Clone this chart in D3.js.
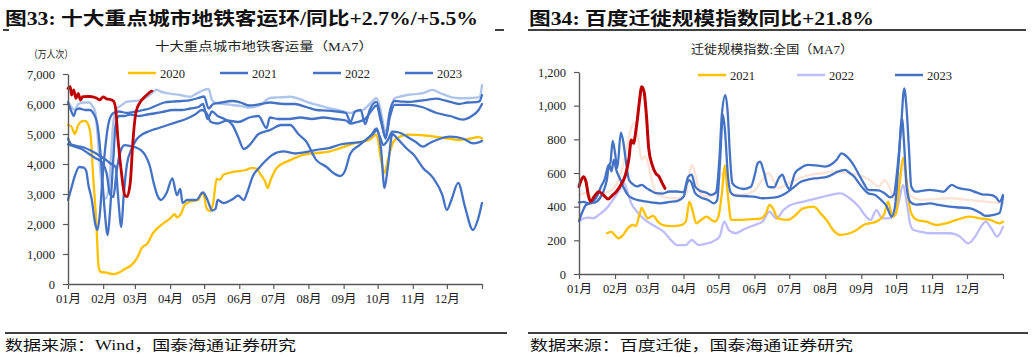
<!DOCTYPE html>
<html><head><meta charset="utf-8">
<script src="https://cdn.jsdelivr.net/npm/d3@7"></script>
<style>body{margin:0;background:#fff;} svg{display:block;}</style>
</head><body>
<svg id="c" width="1032" height="357"></svg>
<script>
// ---------- labels & ticks ----------
const monthLabels = ["01月","02月","03月","04月","05月","06月","07月","08月","09月","10月","11月","12月"];
const monthStartDays = [0,31,59,90,120,151,181,212,243,273,304,334,365];
const metroTicks = [0,1000,2000,3000,4000,5000,6000,7000];
const migTicks = [0,200,400,600,800,1000,1200];
const metroLegend = ["2020","2021","2022","2023"];
const migLegend = ["2021","2022","2023"];

// ---------- left chart: metro ridership (day of year, 10k trips) ----------
const metroLight = [[0,6080],[3,5900],[6,5800],[9,6000],[14,6050],[19,6050],[22,5900],[24,5750],[26,5000],[28,4000],[30,3200],[33,2850],[36,3200],[38,4300],[40,5400],[43,5850],[47,5950],[52,6080],[58,6100],[64,6130],[68,6200],[72,6300],[78,6470],[83,6400],[87,6360],[93,6330],[99,6300],[104,6260],[108,6240],[112,6320],[116,6400],[120,6470],[124,6500],[127,6130],[131,6020],[138,6000],[146,5960],[153,5930],[160,5880],[169,5950],[178,6200],[186,6220],[196,6240],[205,6150],[212,6050],[219,5980],[228,5880],[237,5810],[243,5750],[249,5700],[255,5760],[260,5800],[266,6000],[272,6190],[275,5900],[277,5520],[280,5000],[282,5440],[285,5900],[288,6190],[293,6250],[299,6300],[306,6330],[313,6360],[321,6470],[329,6350],[337,6240],[343,6200],[348,6190],[355,6200],[363,6230],[365,6630]];
const metro2020 = [[0,5300],[3,5250],[6,5000],[9,5300],[12,5420],[15,5440],[18,5300],[20,4950],[22,3700],[25,2030],[27,570],[29,400],[34,380],[40,330],[46,400],[50,500],[55,600],[61,870],[65,1200],[70,1350],[75,1700],[81,1930],[87,2100],[91,2220],[94,2330],[96,2220],[100,2370],[103,2640],[109,2760],[115,2810],[118,3040],[120,2930],[122,2540],[125,2430],[128,2700],[131,3500],[134,3480],[137,3640],[146,3740],[157,3800],[162,3870],[166,3850],[170,3640],[174,3400],[176,3200],[179,3500],[184,3870],[196,4130],[208,4310],[219,4360],[231,4420],[240,4530],[254,4700],[266,4810],[272,4980],[276,4130],[279,3700],[282,4130],[287,4750],[293,4920],[300,4980],[307,4970],[315,4950],[325,4900],[335,4850],[345,4800],[355,4850],[362,4900],[365,4850]];
const metro2021 = [[0,6050],[3,5750],[5,5600],[7,5800],[10,5850],[15,5800],[19,5800],[23,5650],[26,5300],[29,4200],[32,2600],[35,1630],[37,2400],[40,4200],[42,5300],[45,5600],[50,5600],[55,5650],[62,5600],[70,5650],[78,5700],[85,5750],[92,5800],[100,5800],[108,5850],[115,5900],[119,6000],[123,5500],[127,5750],[132,5600],[138,5500],[145,5300],[150,4900],[155,4500],[160,4630],[168,5000],[178,5130],[188,5300],[196,5300],[203,5000],[210,4750],[219,4130],[228,3900],[234,3700],[240,3600],[244,3750],[249,4350],[257,4630],[264,4850],[269,5000],[272,5130],[275,4900],[278,4630],[282,4800],[286,5080],[292,5050],[299,4910],[306,4750],[313,4580],[319,4700],[325,4800],[337,4910],[348,4850],[357,4690],[362,4720],[365,4770]];
const metro2022 = [[0,4650],[4,4600],[8,4550],[12,4500],[18,4350],[24,4200],[30,4050],[34,3700],[37,3000],[40,2900],[43,3800],[47,4500],[50,4630],[55,4600],[60,4550],[64,4470],[68,4300],[72,3950],[76,3300],[79,2930],[82,2800],[87,3040],[92,3520],[96,2960],[99,3170],[101,2700],[105,2800],[113,2800],[119,3050],[123,2800],[127,2450],[130,2500],[132,2800],[137,2700],[146,2850],[150,2950],[155,2800],[158,3050],[163,3600],[168,3850],[174,4100],[180,4300],[190,4420],[200,4350],[210,4400],[219,4470],[230,4530],[240,4650],[250,4700],[260,4750],[268,5000],[272,5190],[276,4500],[279,3200],[282,3900],[286,5000],[290,4860],[299,4500],[305,4300],[313,3870],[322,3530],[330,2970],[334,2470],[338,2800],[344,3370],[350,2570],[357,1800],[361,2100],[365,2700]];
const metro2023 = [[0,2800],[3,3200],[6,3600],[10,3900],[14,3880],[16,3780],[18,3300],[21,2800],[24,2000],[26,1800],[28,2300],[30,3300],[33,4600],[36,5400],[40,5700],[45,5750],[52,5700],[60,5750],[66,5800],[72,5850],[78,5950],[85,6050],[92,6080],[100,6100],[108,6130],[115,6200],[120,6250],[124,5850],[128,6000],[135,6050],[145,6100],[152,6050],[160,5950],[170,6000],[178,6050],[190,6000],[200,6000],[210,5900],[219,5800],[228,5780],[237,5750],[245,5700],[249,5400],[253,5750],[258,5800],[262,5330],[266,5800],[272,6070],[276,5500],[280,4850],[284,5800],[288,6100],[295,6080],[300,6070],[308,6100],[315,6130],[325,6180],[332,6120],[337,6070],[345,6000],[352,6050],[360,6060],[363,6100],[365,6300]];
const metroExtra = [[0,4850],[3,4650],[8,4600],[14,4550],[20,4450],[27,4300],[33,4150],[38,4000],[42,3900],[44,3000],[47,1900],[49,2900],[52,4000],[56,4500],[60,4800],[66,5000],[72,5100],[80,5200],[88,5300],[96,5400],[104,5500],[112,5650],[118,5800],[122,5700],[126,5400],[132,5350],[140,5450],[150,5400],[160,5550],[168,5600],[175,5200],[178,5550],[185,5500],[195,5500],[205,5550],[215,5500],[225,5550],[235,5500],[245,5450],[249,5350],[255,5400],[262,5500],[268,5800],[272,5950],[276,5400],[280,4900],[284,5600],[288,5970],[300,5970],[312,5900],[325,5700],[337,5600],[348,5480],[356,5600],[362,5800],[365,6000]];
const metro2024 = [[0,6522],[2,6578],[3,6300],[5,6467],[7,6189],[9,6356],[11,6133],[13,6244],[19,6250],[25,6200],[28,6140],[31,6240],[34,6170],[37,6150],[40,6100],[42,5850],[44,4850],[47,3750],[50,2970],[52,2910],[55,3410],[57,4630],[60,5740],[64,6080],[68,6250],[72,6390],[74,6430]];

// ---------- right chart: Baidu migration index ----------
const mig2019 = [[0,470],[5,480],[10,460],[15,450],[20,470],[25,490],[30,510],[34,560],[38,650],[42,780],[45,870],[48,900],[51,800],[54,680],[57,700],[60,640],[64,520],[68,470],[75,455],[85,450],[92,470],[95,600],[97,648],[100,600],[104,480],[110,460],[116,470],[120,540],[123,600],[126,560],[130,480],[140,470],[150,490],[158,560],[163,600],[167,560],[172,510],[180,540],[190,570],[200,590],[210,600],[220,610],[230,600],[240,590],[250,560],[258,520],[263,558],[267,520],[272,440],[276,560],[279,650],[282,520],[286,460],[295,440],[305,445],[320,450],[335,440],[350,430],[365,420]];
const mig2020 = [[0,315],[3,370],[6,410],[10,420],[14,425],[18,450],[21,490],[24,560],[26,650],[28,610],[30,680],[32,620],[35,570],[38,520],[42,470],[46,450],[50,440],[56,432],[62,425],[70,420],[78,428],[85,435],[90,459],[93,540],[95,558],[97,540],[100,480],[105,455],[111,440],[116,420],[119,440],[121,620],[124,945],[126,820],[128,600],[131,480],[135,465],[145,462],[152,458],[158,450],[165,452],[172,460],[178,480],[184,510],[191,548],[197,560],[203,568],[209,572],[214,578],[219,595],[223,608],[229,618],[233,600],[237,578],[241,540],[245,505],[249,479],[255,469],[260,440],[265,400],[269,341],[272,400],[275,650],[278,925],[280,760],[282,520],[285,430],[290,412],[296,415],[302,420],[310,410],[319,400],[328,395],[337,390],[345,365],[350,345],[356,350],[362,362],[365,460]];
const mig2021 = [[24,242],[28,250],[31,230],[34,212],[38,232],[42,271],[46,291],[49,285],[52,351],[54,392],[56,370],[59,331],[64,345],[68,311],[72,291],[80,285],[88,291],[92,311],[95,430],[98,370],[101,301],[105,321],[110,341],[114,321],[117,311],[120,341],[123,479],[125.5,645],[128,479],[131,321],[137,321],[146,325],[157,331],[161,361],[164,410],[167,390],[171,331],[180,321],[185,341],[193,390],[202,400],[208,360],[213,321],[220,252],[225,232],[233,242],[239,261],[245,291],[250,301],[256,311],[263,360],[266,430],[270,341],[273,360],[276,538],[279,690],[282,560],[284,430],[286,361],[291,321],[299,311],[308,291],[316,301],[325,321],[336,341],[345,331],[354,321],[362,301],[365,311]];
const mig2022 = [[0,311],[4,330],[8,335],[12,331],[17,351],[25,400],[32,469],[36,510],[39,540],[42,480],[45,420],[50,370],[57,320],[65,285],[73,250],[80,195],[84,172],[92,172],[97,202],[103,172],[109,180],[115,192],[121,222],[125,311],[129,261],[135,242],[141,262],[147,281],[153,295],[158,311],[164,370],[170,330],[176,380],[182,410],[190,425],[199,440],[208,455],[216,469],[225,479],[233,450],[238,420],[242,390],[246,350],[251,321],[256,380],[261,331],[266,330],[271,341],[275,420],[279,529],[282,430],[285,300],[288,261],[295,250],[302,242],[310,242],[319,242],[328,222],[335,182],[341,222],[346,280],[350,311],[355,270],[360,222],[365,281]];
const mig2023 = [[0,425],[4,428],[8,420],[12,430],[16,470],[19,520],[22,560],[25,640],[27,660],[29,790],[31,720],[33,630],[36,840],[38,790],[40,690],[43,560],[46,535],[50,520],[54,530],[58,510],[62,495],[66,480],[72,478],[78,490],[84,490],[90,485],[94,578],[97,590],[100,520],[104,495],[109,485],[114,470],[118,485],[121,700],[123,950],[126,1063],[128,960],[130,700],[132,540],[136,515],[142,505],[148,518],[151,580],[154,660],[156,667],[159,610],[163,518],[168,515],[172,570],[175,590],[178,540],[181,505],[186,600],[191,630],[197,648],[204,645],[212,638],[218,655],[222,680],[226,717],[229,707],[233,680],[237,640],[241,590],[245,540],[249,500],[254,498],[258,497],[263,480],[268,455],[271,470],[274,620],[277,850],[280,1103],[282,980],[284,750],[286,520],[290,489],[296,495],[302,500],[308,495],[314,489],[318,515],[321,530],[325,515],[330,505],[336,500],[342,485],[348,472],[354,470],[359,455],[362,430],[365,469]];
const mig2024 = [[0,519],[2,559],[4,578],[6,549],[8,469],[10,430],[13,459],[17,489],[21,469],[25,446],[29,469],[32,489],[36,529],[40,588],[43,687],[45,796],[47,776],[48,806],[50,905],[52,1024],[54,1113],[56,1083],[58,945],[60,747],[63,648],[66,598],[69,578],[71,549],[74,509]];

// ---------- drawing ----------
const svg = d3.select("#c");
const SERIF = "'Liberation Serif','Times New Roman','Noto Sans CJK SC',serif";
const CJK = "'Liberation Serif','Noto Sans CJK SC',sans-serif";
const BLUE = "#4472C4", YEL = "#FFC000", RED = "#C00000";

function txt(x, y, s, size, opts = {}) {
  const t = svg.append("text").attr("x", x).attr("y", y).text(s)
    .attr("font-family", opts.family || CJK).attr("font-size", size)
    .attr("fill", opts.fill || "#111");
  if (opts.bold) t.attr("font-weight", "bold");
  if (opts.len) t.attr("textLength", opts.len).attr("lengthAdjust", "spacingAndGlyphs");
  if (opts.anchor) t.attr("text-anchor", opts.anchor);
  return t;
}

// titles
txt(5, 25, "图33:  十大重点城市地铁客运环/同比+2.7%/+5.5%", 18, {bold: true, len: 473});
txt(529, 25, "图34:  百度迁徙规模指数同比+21.8%", 18, {bold: true, len: 345});
svg.append("line").attr("x1", 528).attr("x2", 1026).attr("y1", 30).attr("y2", 30).attr("stroke", "#000").attr("stroke-width", 1.5);
svg.append("line").attr("x1", 3).attr("x2", 9).attr("y1", 30).attr("y2", 30).attr("stroke", "#000").attr("stroke-width", 1.5);
svg.append("line").attr("x1", 495).attr("x2", 504).attr("y1", 30).attr("y2", 30).attr("stroke", "#000").attr("stroke-width", 1.5);

// subtitles
txt(264, 51, "十大重点城市地铁客运量（MA7）", 12, {len: 218, anchor: "middle", fill: "#222"});
txt(29, 58, "（万人次）", 10.5, {len: 44, fill: "#222"});
txt(772, 54, "迁徙规模指数:全国（MA7）", 12, {len: 162, anchor: "middle", fill: "#222"});

// footers
svg.append("line").attr("x1", 5).attr("x2", 507).attr("y1", 333).attr("y2", 333).attr("stroke", "#000").attr("stroke-width", 1.5);
svg.append("line").attr("x1", 528).attr("x2", 1028).attr("y1", 333).attr("y2", 333).attr("stroke", "#000").attr("stroke-width", 1.5);
txt(5, 350, "数据来源：Wind，国泰海通证券研究", 14, {len: 291});
txt(530, 350, "数据来源：百度迁徙，国泰海通证券研究", 14, {len: 323});

function drawChart(cfg) {
  const x = d3.scaleLinear().domain([0, 365]).range(cfg.xr);
  const y = d3.scaleLinear().domain(cfg.yd).range(cfg.yr);
  const g = svg.append("g");
  const line = d3.line().x(d => x(d[0])).y(d => y(d[1])).curve(d3.curveMonotoneX);
  cfg.series.forEach(s => {
    g.append("path").datum(s.data).attr("d", line).attr("fill", "none")
      .attr("stroke", s.color).attr("stroke-width", s.w || 2.3)
      .attr("stroke-linejoin", "round").attr("stroke-linecap", "round");
  });
  const ya = g.append("g").attr("transform", `translate(${cfg.xr[0]},0)`)
    .call(d3.axisLeft(y).tickValues(cfg.ticks).tickFormat(d3.format(",")).tickSize(5).tickSizeOuter(0).tickPadding(8));
  const xa = g.append("g").attr("transform", `translate(0,${cfg.yr[0]})`)
    .call(d3.axisBottom(x).tickValues(monthStartDays).tickFormat((d, i) => monthLabels[i] || "").tickSize(5).tickSizeOuter(0).tickPadding(5));
  [ya, xa].forEach(a => {
    a.select(".domain").attr("stroke", "#595959").attr("stroke-width", 1.4);
    a.selectAll(".tick line").attr("stroke", "#595959").attr("stroke-width", 1.2);
    a.selectAll("text").attr("font-family", CJK).attr("font-size", 12.5).attr("fill", "#222");
  });
  // legend
  cfg.legend.forEach(l => {
    g.append("line").attr("x1", l.x).attr("x2", l.x + 28).attr("y1", cfg.ly).attr("y2", cfg.ly)
      .attr("stroke", l.color).attr("stroke-width", 2.5);
    g.append("text").attr("x", l.x + 32).attr("y", cfg.ly + 4.5).text(l.label)
      .attr("font-family", SERIF).attr("font-size", 12.5).attr("fill", "#222");
  });
}

drawChart({
  xr: [68, 482], yd: [0, 7000], yr: [284, 74], ticks: metroTicks, ly: 73,
  series: [
    {data: metroLight, color: "#AEC5EB", w: 2.4},
    {data: metro2020, color: YEL},
    {data: metro2022, color: BLUE},
    {data: metroExtra, color: BLUE},
    {data: metro2021, color: BLUE},
    {data: metro2023, color: BLUE},
    {data: metro2024, color: RED, w: 2.8}
  ],
  legend: [
    {x: 128, label: metroLegend[0], color: YEL},
    {x: 220, label: metroLegend[1], color: BLUE},
    {x: 313, label: metroLegend[2], color: BLUE},
    {x: 405, label: metroLegend[3], color: BLUE}
  ]
});

drawChart({
  xr: [579, 1003], yd: [0, 1200], yr: [274, 72], ticks: migTicks, ly: 75,
  series: [
    {data: mig2019, color: "#FBE3D6"},
    {data: mig2022, color: "#BDBDFB"},
    {data: mig2021, color: YEL},
    {data: mig2020, color: BLUE},
    {data: mig2023, color: BLUE},
    {data: mig2024, color: RED, w: 3}
  ],
  legend: [
    {x: 698, label: migLegend[0], color: YEL},
    {x: 797, label: migLegend[1], color: "#BDBDFB"},
    {x: 895, label: migLegend[2], color: BLUE}
  ]
});
</script>
</body></html>
